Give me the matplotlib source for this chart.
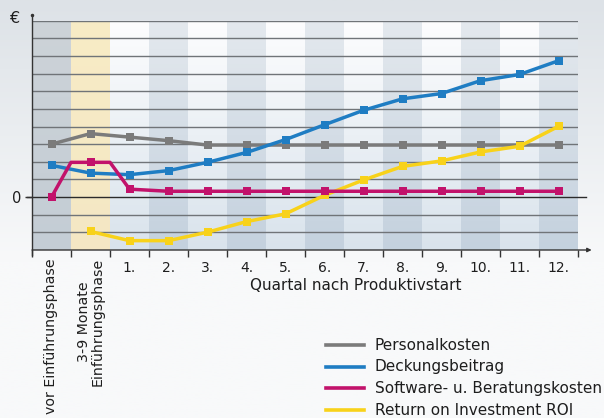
import matplotlib
matplotlib.use("Agg")
import matplotlib.pyplot as plt
import matplotlib.colors as mcolors
import numpy as np

# Kategorien (Spalten)
labels = ["vor Einführungsphase", "3-9 Monate\nEinführungsphase",
          "1.", "2.", "3.", "4.", "5.", "6.", "7.", "8.", "9.", "10.", "11.", "12."]

# Werte (Rasterlinien-Einheiten, 0 = Nulllinie)
personal = [3.0, 3.6, 3.4, 3.2, 2.95, 2.95, 2.95, 2.95, 2.95, 2.95, 2.95, 2.95, 2.95, 2.95]
deckung = [1.8, 1.36, 1.27, 1.5, 1.97, 2.53, 3.26, 4.1, 4.92, 5.57, 5.87, 6.6, 6.95, 7.73]
# Software: Zwischenpunkte an den Spaltengrenzen der Einführungsphase
software_x = [0, 0.5, 1, 1.5, 2, 3, 4, 5, 6, 7, 8, 9, 10, 11, 12, 13]
software = [0, 1.97, 1.97, 1.97, 0.45, 0.33, 0.33, 0.33, 0.33, 0.33, 0.33, 0.33, 0.33, 0.33, 0.33, 0.33]
roi_x = [1, 2, 3, 4, 5, 6, 7, 8, 9, 10, 11, 12, 13]
roi = [-1.95, -2.47, -2.47, -1.99, -1.39, -0.95, 0.1, 0.97, 1.74, 2.05, 2.56, 2.88, 4.01]

c_grey = "#7b7b7b"
c_blue = "#1f7dc3"
c_mag = "#c2126b"
c_yel = "#f8d21a"
txt = "#1e1e1e"

fig = plt.figure(figsize=(6.04, 4.18), dpi=100)

# Hintergrundverlauf
bg = fig.add_axes([0, 0, 1, 1], zorder=-10)
top = np.array(mcolors.to_rgb("#dde2e7"))
bot = np.array(mcolors.to_rgb("#f8f9fa"))
t = np.linspace(0, 1, 200)[:, None]
f = np.clip(t * 1.6, 0, 1)
grad = top[None, :] * (1 - f) + bot[None, :] * f
bg.imshow(grad[:, None, :], aspect="auto", extent=[0, 1, 0, 1])
bg.axis("off")

ax = fig.add_axes([32 / 604, 1 - 250 / 418, 546 / 604, (250 - 20.7) / 418])
ax.set_xlim(-0.5, 13.5)
ax.set_ylim(-3, 10)
ax.patch.set_alpha(0)

# Spaltenhintergründe
light_t, light_b = "#fdfdfe", "#d9e3ec"
dark_t, dark_b = "#e4e9ee", "#c4d1de"
for i in range(len(labels)):
    if i == 0:
        ct, cb = "#cdd3d8", "#c4cdd5"
    elif i == 1:
        ct, cb = "#f8ecc6", "#f4e7c4"
    elif i % 2 == 0:
        ct, cb = light_t, light_b
    else:
        ct, cb = dark_t, dark_b
    a = np.array(mcolors.to_rgb(ct))
    b = np.array(mcolors.to_rgb(cb))
    col = a[None, :] * (1 - t) + b[None, :] * t
    ax.imshow(col[:, None, :], aspect="auto", extent=[i - 0.5, i + 0.5, -3, 10], zorder=0)

# Rasterlinien
for y in range(-2, 11):
    if y == 0:
        continue
    ax.axhline(y, color="#707478", lw=1.0, zorder=1)
ax.plot([-0.62, 13.7], [0, 0], color="#2b2b2b", lw=1.0, zorder=1, clip_on=False)

ms = 6.2
lw = 2.5
ax.plot(range(14), personal, color=c_grey, lw=lw, marker="s", ms=ms, mew=0, zorder=3)
ax.plot(range(14), deckung, color=c_blue, lw=lw, marker="s", ms=ms, mew=0, zorder=4)
ax.plot(software_x, software, color=c_mag, lw=lw, marker="s", ms=ms, mew=0,
        markevery=[0, 2] + list(range(4, 16)), zorder=5)
ax.plot(roi_x, roi, color=c_yel, lw=lw, marker="s", ms=ms, mew=0, zorder=3)

# Achsen
for s in ["top", "right", "bottom", "left"]:
    ax.spines[s].set_visible(False)
ax.plot([-0.5, -0.5], [-3.3, 10.35], color="#333333", lw=1.0, clip_on=False, zorder=6)
ax.plot([-0.5], [10.35], marker=".", color="#333333", ms=3, clip_on=False)
ax.annotate("", xy=(13.85, -3), xytext=(-0.5, -3),
            arrowprops=dict(arrowstyle="-|>", color="#333333", lw=1.0,
                            mutation_scale=6, shrinkA=0, shrinkB=0),
            annotation_clip=False, zorder=6)

ax.set_yticks([0])
ax.set_yticklabels(["0"], fontsize=10.5, color=txt)
ax.tick_params(axis="y", length=5, width=1, color="#333333", pad=3)
ax.text(-0.95, 10.1, "€", fontsize=11.5, color=txt, ha="center", va="center")

ax.set_xticks(np.arange(-0.5, 14.5, 1), minor=False)
ax.set_xticklabels([])
ax.tick_params(axis="x", length=5, width=1, color="#333333")
for i, lab in enumerate(labels):
    if i < 2:
        ax.text(i, -3.45, lab, rotation=90, ha="center", va="top", fontsize=10.2,
                color=txt, linespacing=1.0)
    else:
        ax.text(i, -3.6, lab, ha="center", va="top", fontsize=10, color=txt)
ax.text(7.8, -4.6, "Quartal nach Produktivstart", ha="center", va="top",
        fontsize=11, color=txt)

# Legende
leg_items = [("Personalkosten", c_grey), ("Deckungsbeitrag", c_blue),
             ("Software- u. Beratungskosten", c_mag), ("Return on Investment ROI", c_yel)]
for k, (name, c) in enumerate(leg_items):
    yy = 1 - (345 + k * 21.7) / 418
    fig.lines.append(plt.Line2D([326 / 604, 364 / 604], [yy, yy], color=c, lw=2.6,
                                transform=fig.transFigure))
    fig.text(375 / 604, yy, name, fontsize=11, va="center", ha="left", color=txt)

fig.savefig("out.png", dpi=100)
